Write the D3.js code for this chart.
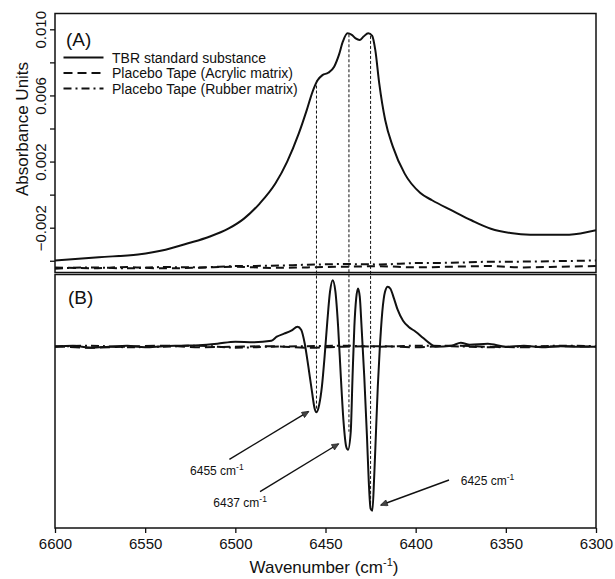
<!DOCTYPE html>
<html>
<head>
<meta charset="utf-8">
<script src="https://cdn.jsdelivr.net/npm/d3@7"></script>
<style>
  html, body { margin: 0; padding: 0; background: #fff; }
  svg { display: block; font-family: "Liberation Sans", Arial, sans-serif; }
</style>
</head>
<body>
<svg id="chart" width="615" height="579"></svg>
<script>
// ---------------- DATA ----------------
// Panel A: TBR standard substance absorbance (wavenumber, absorbance units)
const tbrWavenumber = [6600, 6575.7, 6553.9, 6538.7, 6525.7, 6514.8, 6503.9, 6495.2, 6486.5, 6477.8,
  6471.3, 6464.8, 6460.4, 6457.2, 6454.3, 6451.7, 6448.5, 6445.2, 6442.6, 6440.4,
  6437.8, 6435.4, 6433.3, 6431.1, 6428.9, 6426.3, 6424.1, 6422.4, 6420.2, 6416.9,
  6412.6, 6406.1, 6397.4, 6390.9, 6380.0, 6369.1, 6358.3, 6347.4, 6336.5, 6314.8, 6300];
const tbrAbsorbance = [-0.00398, -0.00378, -0.00362, -0.00333, -0.00293, -0.00256, -0.00206, -0.00145, -0.00054, 0.00067,
  0.00198, 0.00370, 0.00511, 0.00622, 0.00693, 0.00723, 0.00737, 0.00774, 0.00844, 0.00925,
  0.00976, 0.00966, 0.00945, 0.00935, 0.00956, 0.00976, 0.00960, 0.00875, 0.00673, 0.00451,
  0.00289, 0.00127, 0.00010, -0.00034, -0.00095, -0.00155, -0.00206, -0.00232, -0.00242, -0.00242, -0.00216];

// Placebo tapes, panel A (every 20 cm-1 from 6600 to 6300)
const placeboWavenumber = [6600, 6580, 6560, 6540, 6520, 6500, 6480, 6460, 6440, 6420, 6400, 6380, 6360, 6340, 6320, 6300];
const acrylicA = [-0.00440, -0.00445, -0.00438, -0.00446, -0.00442, -0.00436, -0.00443, -0.00440, -0.00436, -0.00433, -0.00440, -0.00436, -0.00432, -0.00440, -0.00436, -0.00432];
const rubberA  = [-0.00448, -0.00440, -0.00446, -0.00438, -0.00440, -0.00432, -0.00430, -0.00424, -0.00420, -0.00422, -0.00414, -0.00412, -0.00406, -0.00405, -0.00402, -0.00398];

// Panel B: second derivative (arbitrary units)
const derivWavenumber = [6600, 6590, 6580, 6570, 6560, 6550, 6540, 6530, 6520, 6510, 6500, 6490, 6480,
  6477, 6473, 6469, 6465.5, 6463.5, 6461.5, 6459.5, 6457.5, 6456, 6455, 6453.5, 6452, 6450.5,
  6449, 6447.5, 6446, 6444.5, 6443, 6441.5, 6440, 6438.5, 6437.5, 6436, 6435, 6434, 6433, 6432,
  6431, 6430, 6428.5, 6427, 6426, 6425, 6424, 6423, 6422, 6421, 6420, 6418.5, 6417, 6415.5,
  6414, 6412, 6410, 6407, 6404, 6400, 6396, 6392, 6389, 6380, 6375, 6370, 6360, 6350, 6340, 6330, 6320, 6310, 6300];
const tbrDeriv = [0.0, 0.01, -0.01, 0.0, 0.01, -0.005, 0.005, 0.01, 0.015, 0.03, 0.05, 0.045, 0.06,
  0.10, 0.13, 0.16, 0.20, 0.17, 0.03, -0.20, -0.45, -0.62, -0.655, -0.58, -0.40, -0.10,
  0.25, 0.55, 0.665, 0.55, 0.20, -0.30, -0.75, -1.0, -1.03, -0.85, -0.30, 0.20, 0.48, 0.583,
  0.50, 0.20, -0.30, -0.90, -1.35, -1.62, -1.64, -1.30, -0.85, -0.40, -0.05, 0.35, 0.55, 0.60,
  0.58, 0.48, 0.37, 0.26, 0.20, 0.15, 0.09, 0.03, 0.0, 0.01, 0.04, 0.02, 0.03, 0.0, 0.01, -0.005, 0.005, 0.0, 0.0];
const acrylicB = [0.005, -0.01, 0.0, 0.01, -0.005, 0.0, 0.005, -0.01, 0.0, 0.005, -0.005, 0.01, 0.0, -0.005, 0.005, 0.0];
const rubberB  = [0.0, 0.01, -0.005, 0.0, 0.01, -0.01, 0.0, 0.005, 0.01, 0.0, 0.01, 0.005, -0.005, 0.0, 0.01, 0.005];

// Series names
const seriesNames = ["TBR standard substance", "Placebo Tape (Acrylic matrix)", "Placebo Tape (Rubber matrix)"];

// Axis ticks
const xTicks = [6600, 6550, 6500, 6450, 6400, 6350, 6300];
const yTicksA = [-0.004, -0.002, 0.000, 0.002, 0.004, 0.006, 0.008, 0.010];
const yLabelsA = [-0.002, 0.002, 0.006, 0.010];

// Peak guides and annotations
const peakWavenumber = [6455, 6437, 6425];
const guideTopA = [0.0069, 0.0097, 0.0096];
const guideBottomB = [-0.62, -0.85, -1.60];
const annotLabel = ["6455 cm", "6437 cm", "6425 cm"];
const annotTextWn = [6525.1, 6512.2, 6375.0];
const annotTextV = [-1.283, -1.600, -1.383];
const arrowTailWn = [6503.3, 6486.3, 6381.5];
const arrowTailV = [-1.126, -1.450, -1.333];
const arrowHeadWn = [6459.5, 6442.9, 6419.2];
const arrowHeadV = [-0.650, -0.973, -1.583];

// ---------------- DRAW ----------------
const svg = d3.select("#chart");
const L = 55, R = 596;
const aTop = 13.5, aBot = 272.5, bTop = 274.5, bBot = 528;

const x = d3.scaleLinear().domain([6600, 6300]).range([L, R]);
const yA = d3.scaleLinear().domain([0.010, -0.002]).range([29.3, 227.7]);
const yB = d3.scaleLinear().domain([0, -1]).range([346.7, 446.7]);

const ink = "#111";

// clip paths
const defs = svg.append("defs");
defs.append("clipPath").attr("id", "clipA").append("rect")
  .attr("x", L).attr("y", aTop).attr("width", R - L).attr("height", aBot - aTop);
defs.append("clipPath").attr("id", "clipB").append("rect")
  .attr("x", L).attr("y", bTop).attr("width", R - L).attr("height", bBot - bTop);
defs.append("marker").attr("id", "arrow").attr("viewBox", "0 0 10 10")
  .attr("refX", 9).attr("refY", 5).attr("markerWidth", 9).attr("markerHeight", 7)
  .attr("markerUnits", "userSpaceOnUse").attr("orient", "auto")
  .append("path").attr("d", "M0,0.5 L10,5 L0,9.5 Z").attr("fill", "#444").attr("stroke", ink).attr("stroke-width", 0.8);

const zip = (xs, ys) => xs.map((d, i) => [d, ys[i]]);

// Guides (vertical dashed lines)
const guides = svg.append("g");
peakWavenumber.forEach((w, i) => {
  guides.append("line")
    .attr("x1", x(w)).attr("x2", x(w))
    .attr("y1", yA(guideTopA[i])).attr("y2", yB(guideBottomB[i]))
    .attr("stroke", ink).attr("stroke-width", 1).attr("stroke-dasharray", "3,2");
});

// Panel A lines
const lineA = d3.line().x(d => x(d[0])).y(d => yA(d[1])).curve(d3.curveMonotoneX);
const gA = svg.append("g").attr("clip-path", "url(#clipA)");
gA.append("path").datum(zip(placeboWavenumber, rubberA)).attr("d", lineA)
  .attr("fill", "none").attr("stroke", ink).attr("stroke-width", 2).attr("stroke-dasharray", "8,4,2,4");
gA.append("path").datum(zip(placeboWavenumber, acrylicA)).attr("d", lineA)
  .attr("fill", "none").attr("stroke", ink).attr("stroke-width", 2).attr("stroke-dasharray", "8,5");
gA.append("path").datum(zip(tbrWavenumber, tbrAbsorbance)).attr("d", lineA)
  .attr("fill", "none").attr("stroke", ink).attr("stroke-width", 2);

// Panel B lines
const lineB = d3.line().x(d => x(d[0])).y(d => yB(d[1])).curve(d3.curveMonotoneX);
const gB = svg.append("g").attr("clip-path", "url(#clipB)");
gB.append("path").datum(zip(placeboWavenumber, rubberB)).attr("d", lineB)
  .attr("fill", "none").attr("stroke", ink).attr("stroke-width", 2).attr("stroke-dasharray", "8,4,2,4");
gB.append("path").datum(zip(placeboWavenumber, acrylicB)).attr("d", lineB)
  .attr("fill", "none").attr("stroke", ink).attr("stroke-width", 2).attr("stroke-dasharray", "10,5");
gB.append("path").datum(zip(derivWavenumber, tbrDeriv)).attr("d", lineB)
  .attr("fill", "none").attr("stroke", ink).attr("stroke-width", 2);

// Frames
svg.append("rect").attr("x", L).attr("y", aTop).attr("width", R - L).attr("height", aBot - aTop)
  .attr("fill", "none").attr("stroke", ink).attr("stroke-width", 1.5);
svg.append("rect").attr("x", L).attr("y", bTop).attr("width", R - L).attr("height", bBot - bTop)
  .attr("fill", "none").attr("stroke", ink).attr("stroke-width", 1.5);

// X axis
const xAxis = svg.append("g").attr("transform", `translate(0,${bBot})`)
  .call(d3.axisBottom(x).tickValues(xTicks).tickSize(5).tickPadding(5).tickFormat(d3.format("d")));
xAxis.select(".domain").remove();
xAxis.selectAll("line").attr("stroke", ink).attr("stroke-width", 1.3);
xAxis.selectAll("text").attr("font-size", 15).attr("fill", ink).attr("font-family", "Liberation Sans, Arial, sans-serif");

// Y axis A
const yAxis = svg.append("g").attr("transform", `translate(${L},0)`)
  .call(d3.axisLeft(yA).tickValues(yTicksA).tickSize(5)
    .tickFormat(d => yLabelsA.some(v => Math.abs(v - d) < 1e-9) ? d3.format(".3f")(d) : ""));
yAxis.select(".domain").remove();
yAxis.selectAll("line").attr("stroke", ink).attr("stroke-width", 1.3);
yAxis.selectAll("text")
  .attr("x", null).attr("dy", null)
  .attr("transform", "translate(-9.5,0) rotate(-90)")
  .attr("text-anchor", "middle")
  .attr("font-size", 15).attr("fill", ink).attr("font-family", "Liberation Sans, Arial, sans-serif");

// Axis titles
svg.append("text").attr("transform", "translate(28,129) rotate(-90)")
  .attr("text-anchor", "middle").attr("font-size", 17).attr("fill", ink).text("Absorbance Units");
const xt = svg.append("text").attr("x", 324).attr("y", 573).attr("text-anchor", "middle")
  .attr("font-size", 17).attr("fill", ink);
xt.append("tspan").text("Wavenumber (cm");
xt.append("tspan").attr("font-size", 11).attr("dy", -7).text("-1");
xt.append("tspan").attr("dy", 7).text(")");

// Panel labels
svg.append("text").attr("x", 66).attr("y", 46).attr("font-size", 19).attr("fill", ink).text("(A)");
svg.append("text").attr("x", 68).attr("y", 304).attr("font-size", 19).attr("fill", ink).text("(B)");

// Legend
const legendY = [57.5, 73, 88.5];
const legendDash = [null, "9,5", "8,4,2,4"];
seriesNames.forEach((name, i) => {
  const ln = svg.append("line").attr("x1", 63.5).attr("x2", 103.5)
    .attr("y1", legendY[i]).attr("y2", legendY[i])
    .attr("stroke", ink).attr("stroke-width", 2);
  if (legendDash[i]) ln.attr("stroke-dasharray", legendDash[i]);
  svg.append("text").attr("x", 112).attr("y", legendY[i] + 5)
    .attr("font-size", 14).attr("fill", ink).text(name);
});

// Annotations
peakWavenumber.forEach((w, i) => {
  svg.append("line")
    .attr("x1", x(arrowTailWn[i])).attr("y1", yB(arrowTailV[i]))
    .attr("x2", x(arrowHeadWn[i])).attr("y2", yB(arrowHeadV[i]))
    .attr("stroke", ink).attr("stroke-width", 1.4).attr("marker-end", "url(#arrow)");
  const t = svg.append("text").attr("x", x(annotTextWn[i])).attr("y", yB(annotTextV[i]))
    .attr("font-size", 12).attr("fill", ink);
  t.append("tspan").text(annotLabel[i]);
  t.append("tspan").attr("font-size", 8.5).attr("dy", -5).text("-1");
});
</script>
</body>
</html>
